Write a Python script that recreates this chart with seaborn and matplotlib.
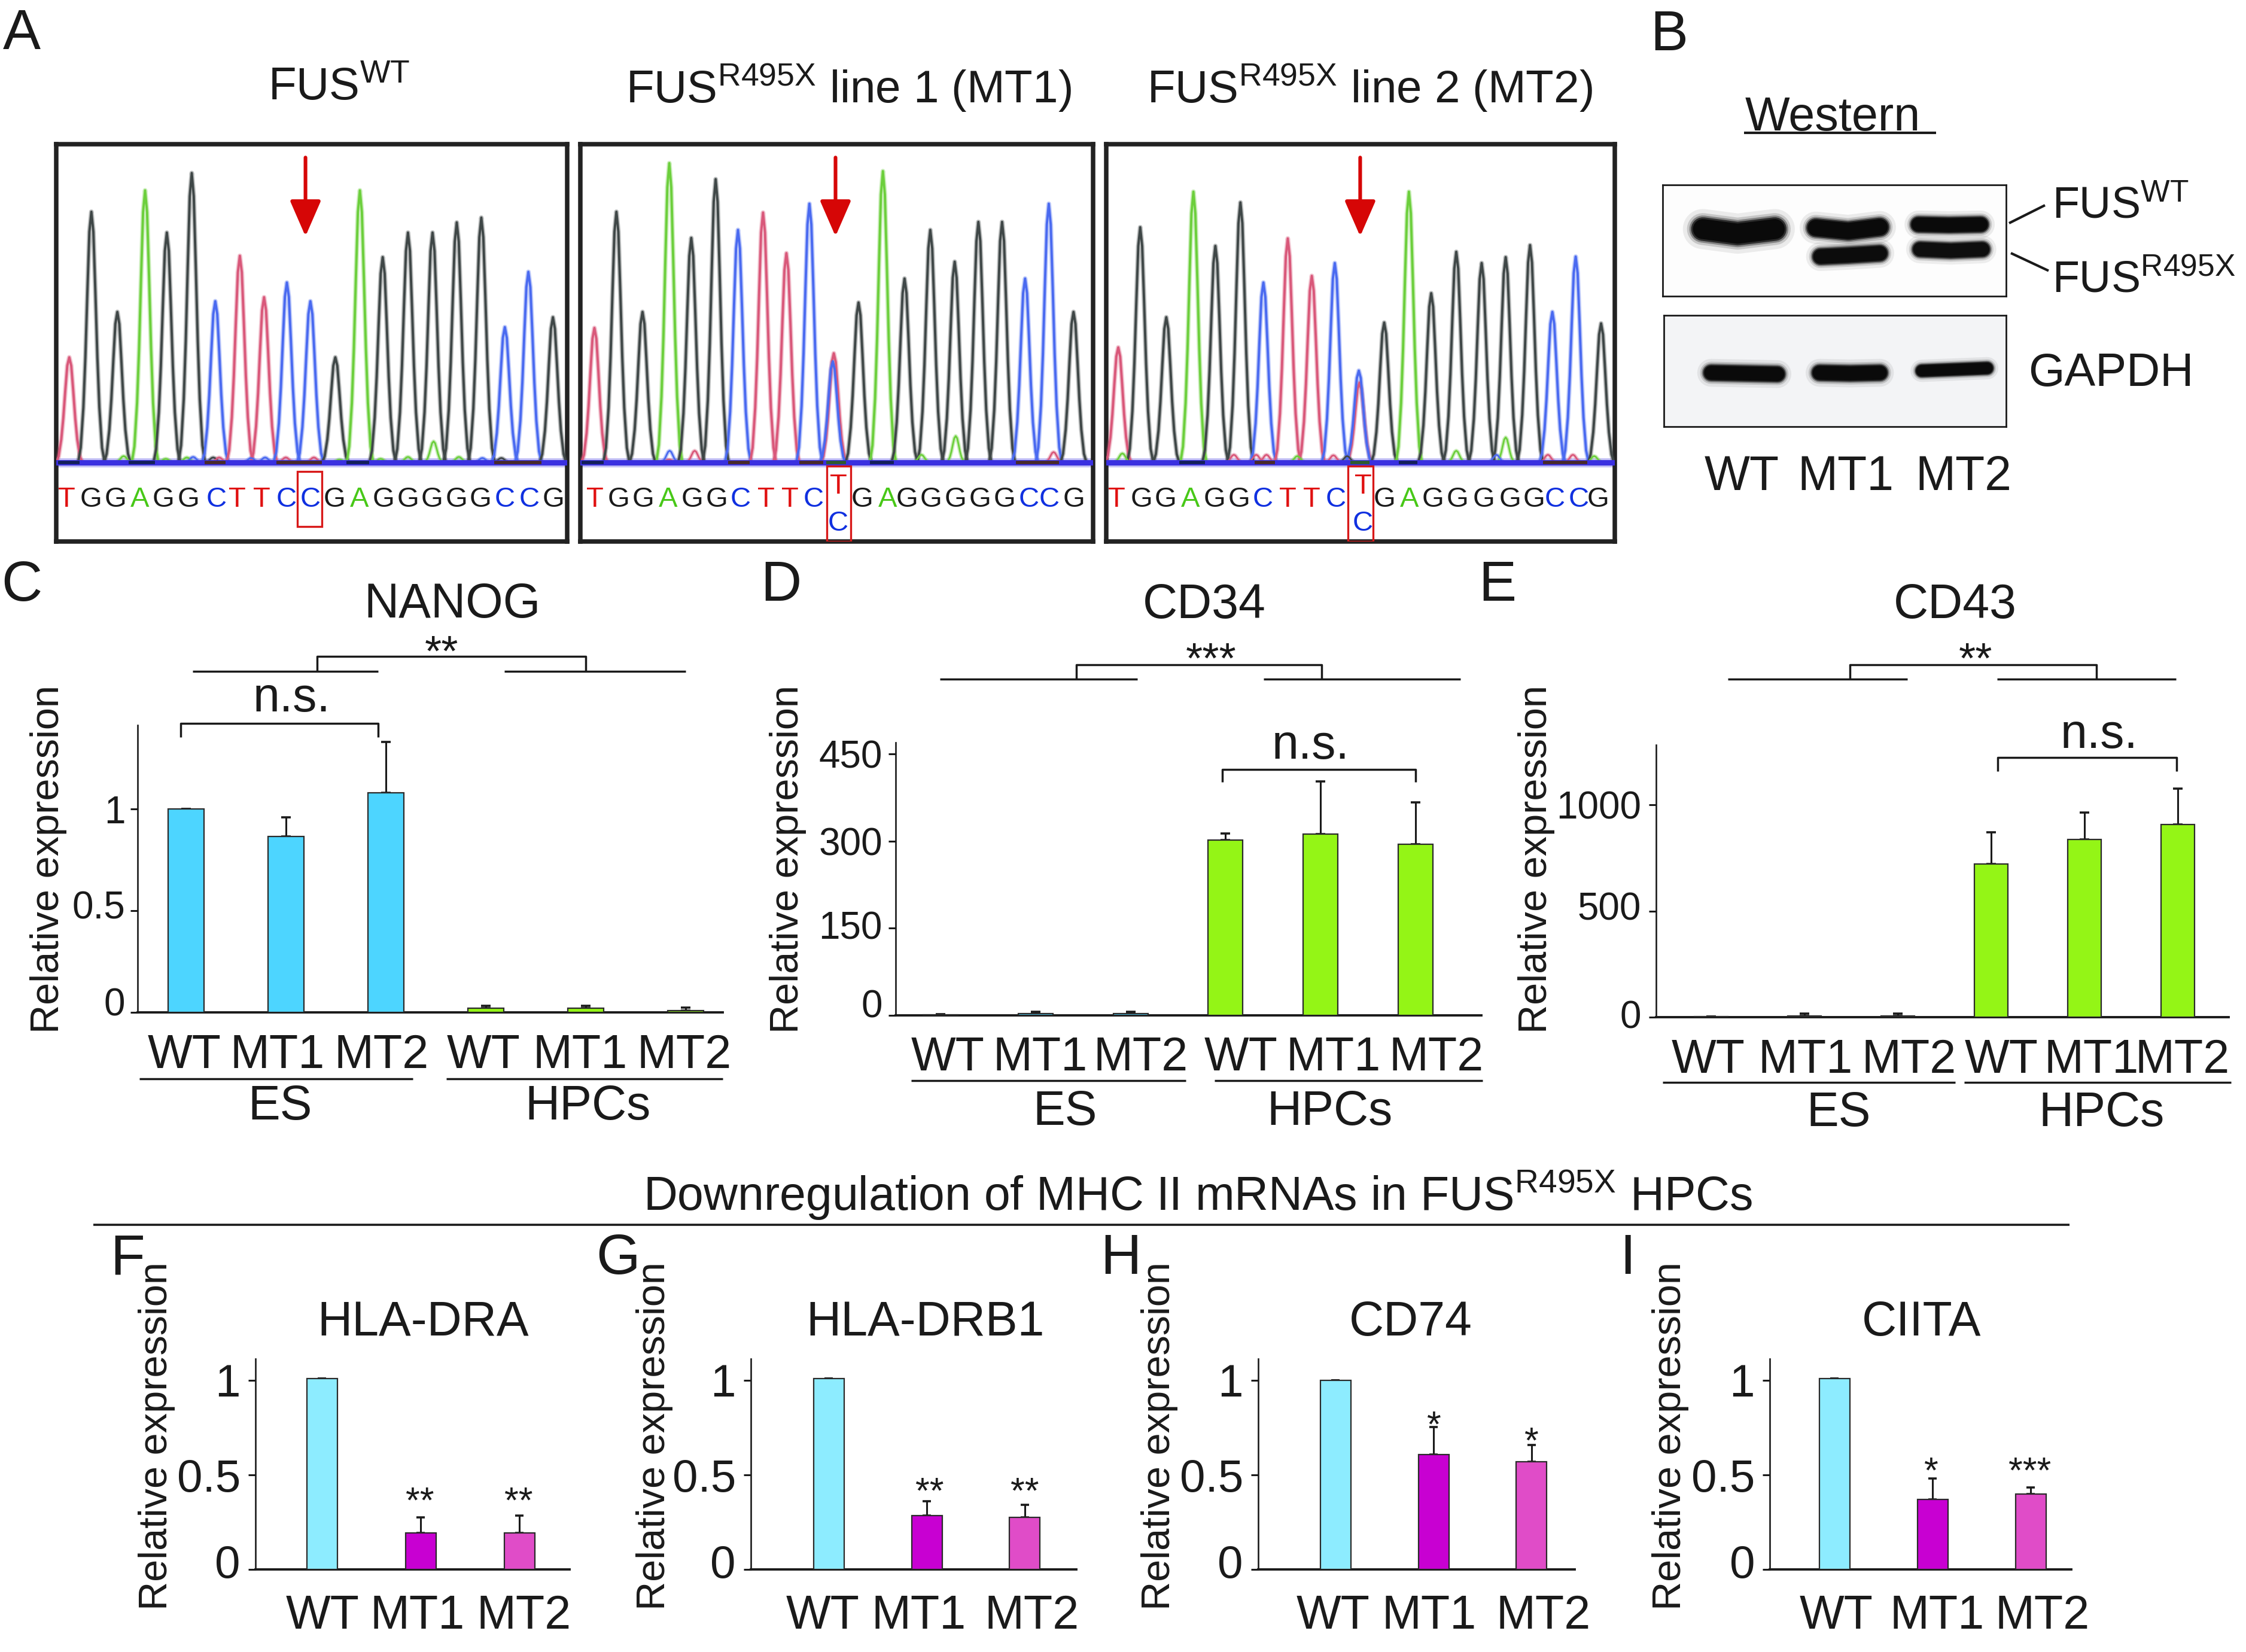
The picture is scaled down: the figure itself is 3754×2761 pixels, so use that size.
import matplotlib
matplotlib.use("Agg")
import matplotlib.pyplot as plt
from matplotlib.lines import Line2D
from matplotlib.patches import Rectangle
from matplotlib.transforms import Affine2D, ScaledTranslation
import seaborn as sns
import numpy as np
import pandas as pd

W, H = 3754, 2761

# bar chart values (mean and upper error)
groups = ["WT", "MT1", "MT2", "WT", "MT1", "MT2"]
lines3 = ["WT", "MT1", "MT2"]

nanog_mean = [1.0, 0.865, 1.08, 0.02, 0.02, 0.01]
nanog_err = [0, 0.095, 0.25, 0.012, 0.012, 0.014]
cd34_mean = [1, 3, 3, 302, 312, 295]
cd34_err = [1, 3, 3, 11, 91, 72]
cd43_mean = [3, 5, 5, 720, 837, 907]
cd43_err = [1, 13, 11, 150, 126, 169]

dra_mean = [1.01, 0.193, 0.193]
dra_err = [0, 0.081, 0.092]
drb1_mean = [1.01, 0.284, 0.275]
drb1_err = [0, 0.076, 0.068]
cd74_mean = [1.0, 0.607, 0.57]
cd74_err = [0, 0.146, 0.087]
ciita_mean = [1.01, 0.37, 0.40]
ciita_err = [0, 0.112, 0.033]

# chromatogram peaks: scan position, signal height, base
wt_pos = [95, 158, 232, 311, 373, 444, 511, 581, 650, 715, 782, 853, 923, 988, 1060, 1130, 1199, 1269, 1336, 1403, 1473]
wt_height = [395, 940, 565, 1020, 862, 1085, 605, 775, 620, 675, 605, 395, 1020, 770, 862, 862, 900, 918, 508, 715, 545]
wt_calls = "TGGAGGCTTCCGAGGGGGCCG"
wt_call_pos = [88, 157, 226, 296, 363, 435, 515, 574, 643, 713, 782, 850, 922, 990, 1060, 1128, 1198, 1267, 1336, 1405, 1474]
wt_minor = [(1133, 80, "A"), (250, 25, "A"), (370, 15, "A"), (430, 20, "A"), (448, 22, "C"), (505, 20, "G"), (522, 20, "T"),
            (613, 18, "C"), (653, 20, "C"), (712, 20, "T"), (792, 20, "T"), (865, 12, "A"), (982, 15, "A"), (1060, 22, "A"),
            (1205, 22, "A"), (1272, 18, "C"), (1326, 18, "G")]
wt_floor = [(63, 125, "#14205a"), (265, 340, "#14205a"), (885, 950, "#14205a"), (480, 540, "#4a2a2a"), (685, 815, "#4a2a2a"),
            (1305, 1440, "#4a2a2a")]

mt1_pos = [58, 122, 198, 276, 340, 411, 476, 549, 617, 684, 755, 752, 827, 898, 961, 1036, 1107, 1176, 1245, 1312, 1381, 1453]
mt1_height = [505, 940, 565, 1122, 842, 1062, 872, 937, 785, 970, 410, 380, 600, 1092, 690, 872, 753, 902, 902, 690, 970, 565]
mt1_bases = "TGGAGGCTTCTCGAGGGGGCCG"
mt1_calls = "TGGAGGCTTC GAGGGGGCCG"
mt1_call_pos = [60, 129, 200, 273, 343, 414, 484, 557, 628, 696, 768, 838, 911, 968, 1038, 1110, 1180, 1252, 1323, 1383, 1454]
mt1_minor = [(1110, 100, "A"), (277, 45, "C"), (350, 45, "T"), (1010, 30, "A"), (1395, 40, "T"), (275, 12, "T")]
mt1_floor = [(20, 85, "#14205a"), (860, 930, "#14205a"), (447, 510, "#4a2a2a"), (655, 725, "#4a2a2a"), (1285, 1410, "#4a2a2a"),
             (733, 790, "#2e5a2e")]

mt2_pos = [33, 97, 173, 252, 316, 389, 456, 527, 597, 664, 736, 734, 808, 880, 945, 1018, 1092, 1162, 1233, 1298, 1366, 1440]
mt2_height = [432, 882, 545, 1015, 812, 975, 675, 840, 700, 748, 300, 345, 525, 1015, 635, 790, 748, 770, 815, 565, 772, 522]
mt2_bases = "TGGAGGCTTCTCGAGGGGGCCG"
mt2_calls = "TGGAGGCTTC GAGGGGGCCG"
mt2_call_pos = [29, 100, 170, 243, 313, 385, 455, 527, 597, 667, 739, 808, 881, 950, 1022, 1098, 1175, 1245, 1305, 1375, 1432]
mt2_minor = [(1162, 95, "A"), (1018, 45, "A"), (45, 35, "A"), (1285, 30, "T"), (1358, 30, "T"), (370, 30, "T"), (435, 30, "T"),
             (465, 30, "T"), (660, 28, "T"), (555, 25, "A"), (700, 25, "G"), (1135, 30, "C"), (1420, 25, "A")]
mt2_floor = [(210, 285, "#14205a"), (850, 905, "#14205a"), (430, 490, "#4a2a2a"), (1270, 1400, "#4a2a2a"), (710, 765, "#2e5a2e")]

# one trace peak, as fractions of its width and height
peak_x = [-1, -0.8, -0.6, -0.45, -0.3, -0.15, 0, 0.15, 0.3, 0.45, 0.6, 0.8, 1]
peak_y = [0, 0.06, 0.22, 0.42, 0.68, 0.92, 1, 0.92, 0.68, 0.42, 0.22, 0.06, 0]

base_trace = {"G": "#3f4747", "T": "#d9587a", "C": "#4a6af0", "A": "#6ccf3c"}
base_text = {"G": "#1a1a1a", "T": "#e01010", "C": "#1030e0", "A": "#48c818"}

sns.set_theme(style="white")
plt.rcParams["font.family"] = ["Liberation Sans", "DejaVu Sans"]
plt.rcParams["mathtext.fontset"] = "custom"
plt.rcParams["mathtext.rm"] = "Liberation Sans"
plt.rcParams["mathtext.default"] = "regular"
plt.rcParams["text.color"] = "#1a1a1a"

INK = "#1a1a1a"
ES_BLUE = "#4dd5ff"
HPC_GREEN = "#94f516"
WT_BLUE = "#8decff"
MT1_PINK = "#c800d2"
MT2_PINK = "#e04cc8"

fig = plt.figure(figsize=(W / 100, H / 100), dpi=100, facecolor="white")
px = Affine2D().scale(1, -1).translate(0, H)


def axes_at(x0, y0, x1, y1):
    return fig.add_axes([x0 / W, 1 - y1 / H, (x1 - x0) / W, (y1 - y0) / H])


def ptext(x, yc, s, size=58, ha="center", rise=0.365, **kw):
    # y is the centre of the glyphs, rise is that centre above the baseline in em
    fig.text(x, yc + rise * size * 100 / 72, s, fontsize=size, ha=ha, va="baseline", transform=px, **kw)


def pline(xs, ys, lw=2.5, **kw):
    fig.add_artist(Line2D(xs, ys, lw=lw, color=INK, transform=px, solid_capstyle="butt", **kw))


def draw_peak(ax, pos, height, base, half=38, lw=3.4):
    xs = [pos + half * f for f in peak_x]
    ys = [height * f for f in peak_y]
    color = base_trace[base]
    sns.lineplot(x=xs, y=ys, estimator=None, sort=False, color=color, linewidth=lw + 2.2, alpha=0.35, ax=ax, zorder=3)
    sns.lineplot(x=xs, y=ys, estimator=None, sort=False, color=color, linewidth=lw - 0.6, ax=ax, zorder=4)


def trace_panel(rect, xlim, pos, height, bases, minor, floor, calls, call_pos, box, arrow_x):
    ax = axes_at(*rect)
    for p, h, b in zip(pos, height, bases):
        draw_peak(ax, p, h, b)
    for p, h, b in minor:
        draw_peak(ax, p, h, b, half=28, lw=2.6)
    ax.axhline(0, color="#3a30e0", lw=6.5, zorder=5)
    ax.axhline(0, color="#3a30e0", lw=11, alpha=0.3, zorder=2)
    for x0, x1, color in floor:
        ax.plot([x0, x1], [0, 0], color=color, lw=4, zorder=6, solid_capstyle="butt")
    for p, b in zip(call_pos, calls):
        if b != " ":
            ax.text(p, -138, b, color=base_text[b], fontsize=34, ha="center", va="center")
    ax.add_patch(Rectangle((box[0], box[2]), box[1] - box[0], box[3] - box[2], fill=False, edgecolor="#d81818", lw=2.4, zorder=6))
    if box[2] < -250:
        ax.text(arrow_x + 8, -88, "T", color=base_text["T"], fontsize=34, ha="center", va="center")
        ax.text(arrow_x + 8, -228, "C", color=base_text["C"], fontsize=34, ha="center", va="center")
    ax.annotate("", xy=(arrow_x, 848), xytext=(arrow_x, 1143),
                arrowprops=dict(arrowstyle="-|>,head_length=0.92,head_width=0.4", color="#d60606", lw=4.4,
                                mutation_scale=40, shrinkA=0, shrinkB=0))
    ax.set_xlim(*xlim)
    ax.set_ylim(-294.6, 1194)
    ax.set(xticks=[], yticks=[], xlabel="", ylabel="")
    for sp in ax.spines.values():
        sp.set_visible(True)
        sp.set_linewidth(5.4)
        sp.set_color("#222222")
    return ax


def bar_panel(spine_x, right, top, base, unit, c0, step, bar_w, means, errs, colors, labels, label_x, label_yc,
              yticks, yticklabels, ysize, ylab_x, ylab_y, pad=8, cap=6, tick_dy=None):
    ax = axes_at(spine_x, top, right, base)
    slots = [f"{i}" for i in range(len(means))]
    df = pd.DataFrame({"slot": slots, "value": means})
    sns.barplot(data=df, x="slot", y="value", hue="slot", palette=colors, width=bar_w / step, edgecolor="#2a2a2a",
                linewidth=1.6, legend=False, errorbar=None, saturation=1, ax=ax, zorder=3)
    lower = np.zeros(len(errs))
    ax.errorbar(np.arange(len(means)), means, yerr=[lower, errs], fmt="none", ecolor=INK, elinewidth=2.2, capsize=cap,
                capthick=2.6, zorder=2)
    ax.set_xlim((spine_x - c0) / step, (right - c0) / step)
    ax.set_ylim(0, (base - top) / unit)
    for s in ("top", "right"):
        ax.spines[s].set_visible(False)
    ax.spines["left"].set_linewidth(1.9)
    ax.spines["bottom"].set_linewidth(2.8)
    ax.spines["left"].set_color(INK)
    ax.spines["bottom"].set_color(INK)
    ax.patch.set_alpha(0)
    ax.set_yticks(yticks, yticklabels, fontsize=ysize)
    ax.tick_params(axis="y", length=9, width=2.2, color=INK, pad=pad, left=True, labelcolor=INK)
    if tick_dy:
        # the figure's tick labels sit a little above their ticks
        for dy, lab in zip(tick_dy, ax.get_yticklabels()):
            lab.set_transform(lab.get_transform() + ScaledTranslation(0, dy / 100, fig.dpi_scale_trans))
    ax.set_xticks(np.arange(len(means)), labels, fontsize=57)
    ax.tick_params(axis="x", length=0, labelcolor=INK, pad=(label_yc - 30 - base) * 0.72, bottom=False)
    for i, lab in enumerate(ax.get_xticklabels()):
        dx = label_x[i] - (c0 + i * step)
        lab.set_transform(lab.get_transform() + ScaledTranslation(dx / 100, 0, fig.dpi_scale_trans))
    ax.set_xlabel("")
    ax.set_ylabel("Relative expression", fontsize=48, va="center", color=INK)
    ax.yaxis.set_label_coords(ylab_x, ylab_y, transform=px)
    return ax


def bracket(x0, x1, y, y_leg, lw=2.5):
    pline([x0, x0, x1, x1], [y_leg, y, y, y_leg], lw=lw)


# panel letters
for letter, x, y in [("A", 36, 48), ("B", 2790, 50), ("C", 36, 970), ("D", 1305, 970), ("E", 2503, 970),
                     ("F", 213, 2095), ("G", 1033, 2095), ("H", 1873, 2095), ("I", 2720, 2095)]:
    ptext(x, y, letter, size=68)

# A: sequencing traces
ptext(567, 139, r"FUS$^{WT}$", size=55)
ptext(1418, 144, r"FUS$^{R495X}$ line 1 (MT1)", size=55)
ptext(2289, 144, r"FUS$^{R495X}$ line 2 (MT2)", size=55)

trace_panel((93.7, 240.5, 948, 905), (57.4, 1513.6), wt_pos, wt_height, wt_calls, wt_minor, wt_floor, wt_calls, wt_call_pos,
            (745, 815, -238, -32), 768)
trace_panel((970, 240.5, 1827, 905), (17, 1510), mt1_pos, mt1_height, mt1_bases, mt1_minor, mt1_floor, mt1_calls, mt1_call_pos,
            (735, 805, -294, -12), 760)
trace_panel((1849, 240.5, 2699, 905), (-2, 1480), mt2_pos, mt2_height, mt2_bases, mt2_minor, mt2_floor, mt2_calls, mt2_call_pos,
            (703, 775, -294, -12), 738)

# B: western blot, band centre lines in blot coordinates
fus_bands = [([192, 280, 374], [698, 712, 698], 72, 1.0), ([478, 560, 640], [694, 704, 692], 58, 1.0),
             ([490, 560, 640], [782, 778, 772], 52, 0.95), ([738, 815, 896], [684, 686, 684], 50, 1.0),
             ([742, 820, 900], [760, 764, 760], 50, 0.9)]
gapdh_bands = [([212, 295, 380], [1136, 1138, 1140], 50, 1.0), ([487, 565, 640], [1136, 1138, 1136], 50, 1.0),
               ([746, 830, 912], [1130, 1126, 1122], 40, 1.0)]


def blot(rect, lim, face, bands):
    ax = axes_at(*rect)
    ax.set_facecolor(face)
    for xs, ys, thick, dark in bands:
        w = thick * 0.5485 * 0.72
        for grow, alpha in [(1.7, 0.07), (1.35, 0.16), (1.15, 0.35), (1.0, 0.7), (0.85, 1.0)]:
            ax.plot(xs, ys, color="#0a0a0a", lw=w * grow, alpha=alpha * dark, solid_capstyle="round", solid_joinstyle="round")
    ax.set_xlim(lim[0], lim[1])
    ax.set_ylim(lim[3], lim[2])
    ax.set(xticks=[], yticks=[])
    for sp in ax.spines.values():
        sp.set_visible(True)
        sp.set_linewidth(2.0)
        sp.set_color(INK)


blot((2779, 309, 3353, 495), (90, 960, 563, 903), "#fdfdfd", fus_bands)
blot((2781, 526.5, 3353, 713), (92, 960, 960, 1300), "#f3f4f6", gapdh_bands)
ptext(3063, 189, "Western", size=57)
pline([2914.5, 3236], [222, 222], lw=3)
ptext(3430, 337, r"FUS$^{WT}$", ha="left", size=53)
ptext(3430, 462, r"FUS$^{R495X}$", ha="left", size=53)
pline([3358, 3418], [373, 343], lw=3)
pline([3361, 3424], [423, 452.5], lw=3)
ptext(3390, 617, "GAPDH", ha="left", size=56)
ptext(2911, 790, "WT")
ptext(3085, 790, "MT1")
ptext(3282, 790, "MT2")

# C-E: marker genes
es_hpc_c = [ES_BLUE] * 3 + [HPC_GREEN] * 3
bar_panel(230, 1208, 1212, 1692, 340, 311, 167, 60, nanog_mean, nanog_err, es_hpc_c, groups,
          [308, 464, 638, 808, 970, 1144], 1757, [0, 0.5, 1], ["0", "0.5", "1"], 46, 81, 1436, pad=6, tick_dy=[18, 10, 0])
bar_panel(1497, 2476, 1241, 1697, 0.971, 1572, 158.8, 58, cd34_mean, cd34_err, es_hpc_c, groups,
          [1584, 1739, 1907, 2074, 2229, 2401], 1761, [0, 150, 300, 450], ["0", "150", "300", "450"], 46, 1317, 1436, pad=7,
          tick_dy=[20, 5, 0, 0])
bar_panel(2768, 3725, 1245, 1700, 0.355, 2860, 156, 56, cd43_mean, cd43_err, es_hpc_c, groups,
          [2855, 3018, 3191, 3345, 3496, 3648], 1765, [0, 500, 1000], ["0", "500", "1000"], 46, 2568, 1436, pad=9,
          tick_dy=[5, 8, 0])

ptext(756, 1003, "NANOG")
ptext(2013, 1004, "CD34")
ptext(3268, 1004, "CD43")

ptext(738, 1076, "**", size=52, rise=0.5)
ptext(2024, 1088, "***", size=52, rise=0.5)
ptext(3302, 1088, "**", size=52, rise=0.5)

bracket(530, 979, 1097, 1122)
pline([322, 632], [1122, 1122])
pline([843, 1146], [1122, 1122])
bracket(1799, 2209, 1111, 1135)
pline([1571, 1901], [1135, 1135])
pline([2112, 2441], [1135, 1135])
bracket(3092, 3504, 1111, 1135)
pline([2888, 3188], [1135, 1135])
pline([3338, 3637], [1135, 1135])

ptext(487, 1168, "n.s.", rise=0.26)
bracket(302, 632, 1209, 1232)
ptext(2190, 1247, "n.s.", rise=0.26)
bracket(2043, 2366, 1286, 1307)
ptext(3508, 1229, "n.s.", rise=0.26)
bracket(3339, 3638, 1266, 1289)

pline([233, 690], [1803, 1803])
pline([746, 1208], [1803, 1803])
ptext(468, 1842, "ES")
ptext(982, 1842, "HPCs")
pline([1523, 1982], [1806, 1806])
pline([2030, 2478], [1806, 1806])
ptext(1780, 1851, "ES")
ptext(2222, 1851, "HPCs")
pline([2779, 3268], [1809, 1809])
pline([3283, 3729], [1809, 1809])
ptext(3073, 1853, "ES")
ptext(3513, 1853, "HPCs")

# F-I: MHC II genes
ptext(2002, 1994, r"Downregulation of MHC II mRNAs in FUS$^{R495X}$ HPCs", size=56.7)
pline([156, 3459], [2047, 2047], lw=2.6)

mhc_colors = [WT_BLUE, MT1_PINK, MT2_PINK]
mhc_ticks = [0, 0.5, 1]
mhc_ticklabels = ["0", "0.5", "1"]
mhc_dy = [14, 0, 0]
bar_panel(427, 952, 2271, 2623, 316, 538, 165, 51, dra_mean, dra_err, mhc_colors, lines3, [539, 698, 876], 2694,
          mhc_ticks, mhc_ticklabels, 55, 262, 2400, pad=9, cap=5, tick_dy=mhc_dy)
bar_panel(1255, 1799, 2271, 2623, 316, 1385, 164, 51, drb1_mean, drb1_err, mhc_colors, lines3, [1375, 1536, 1725], 2694,
          mhc_ticks, mhc_ticklabels, 55, 1094, 2400, pad=9, cap=5, tick_dy=mhc_dy)
bar_panel(2103, 2632, 2271, 2623, 316, 2232, 164, 51, cd74_mean, cd74_err, mhc_colors, lines3, [2228, 2389, 2580], 2694,
          mhc_ticks, mhc_ticklabels, 55, 1938, 2400, pad=9, cap=5, tick_dy=mhc_dy)
bar_panel(2958, 3462, 2271, 2623, 316, 3066, 164, 51, ciita_mean, ciita_err, mhc_colors, lines3, [3069, 3238, 3414], 2694,
          mhc_ticks, mhc_ticklabels, 55, 2792, 2400, pad=9, cap=5, tick_dy=mhc_dy)

ptext(707, 2203, "HLA-DRA")
ptext(1547, 2203, "HLA-DRB1")
ptext(2358, 2203, "CD74")
ptext(3212, 2203, "CIITA")

for x, y, s in [(702, 2497, "**"), (867, 2497, "**"), (1554, 2481, "**"), (1713, 2481, "**"), (2397, 2370, "*"),
                (2560, 2397, "*"), (3228, 2447, "*"), (3393, 2447, "***")]:
    ptext(x, y, s, size=44, rise=0.5)

fig.savefig("out.png", dpi=100)
